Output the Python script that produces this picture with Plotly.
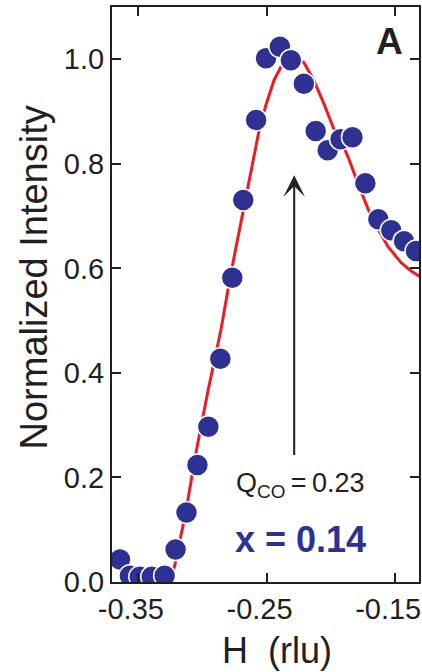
import plotly.graph_objects as go

# measured data points (H in rlu, normalized intensity)
h_data = [-0.3639, -0.3562, -0.3485, -0.3392, -0.3292, -0.3207, -0.3122, -0.3037,
          -0.2952, -0.2859, -0.2766, -0.2681, -0.2581, -0.2504, -0.2396, -0.2311,
          -0.2210, -0.2118, -0.2025, -0.1925, -0.1832, -0.1732, -0.1631, -0.1531,
          -0.1431, -0.1338]
i_data = [0.043, 0.012, 0.010, 0.010, 0.012, 0.062, 0.133, 0.224,
          0.297, 0.427, 0.582, 0.731, 0.884, 1.002, 1.024, 0.998,
          0.953, 0.863, 0.826, 0.847, 0.851, 0.763, 0.694, 0.673,
          0.652, 0.633]

# fitted curve
h_fit = [-0.3255, -0.3214, -0.3129, -0.3044, -0.2953, -0.2854, -0.2779, -0.2682,
         -0.2620, -0.2558, -0.2504, -0.2442, -0.2380, -0.2303, -0.2210, -0.2133,
         -0.2056, -0.1979, -0.1940, -0.1863, -0.1786, -0.1708, -0.1631, -0.1554,
         -0.1454, -0.1376, -0.1307]
i_fit = [0.0, 0.031, 0.132, 0.253, 0.368, 0.483, 0.588, 0.712,
         0.788, 0.864, 0.913, 0.960, 0.989, 1.004, 0.994, 0.960,
         0.916, 0.868, 0.855, 0.811, 0.760, 0.712, 0.674, 0.641,
         0.611, 0.595, 0.584]

x_tickvals = [-0.35, -0.25, -0.15]
x_ticktext = ["-0.35", "-0.25", "-0.15"]
y_tickvals = [0.0, 0.2, 0.4, 0.6, 0.8, 1.0]
y_ticktext = ["0.0", "0.2", "0.4", "0.6", "0.8", "1.0"]

INK = "#231F20"
NAVY = "#2E3192"
RED = "#ED1C24"
FONT = "Liberation Sans, Arial, Helvetica, sans-serif"

fig = go.Figure()
fig.add_trace(go.Scatter(x=h_fit, y=i_fit, mode="lines",
                         line=dict(color=RED, width=3), showlegend=False))
fig.add_trace(go.Scatter(x=h_data, y=i_data, mode="markers",
                         marker=dict(color=NAVY, size=22,
                                     line=dict(color="white", width=1.5)),
                         showlegend=False))

axis_common = dict(showline=True, linecolor=INK, linewidth=2, mirror="ticks",
                   ticks="inside", ticklen=9, tickwidth=2, tickcolor=INK,
                   showgrid=False, zeroline=False, ticklabeloverflow="allow",
                   tickfont=dict(family=FONT, size=29, color=INK))

fig.update_xaxes(range=[-0.3701, -0.1315], tickvals=x_tickvals, ticktext=x_ticktext,
                 ticklabelshift=-7, **axis_common)
fig.update_yaxes(range=[0, 1.1], tickvals=y_tickvals, ticktext=y_ticktext,
                 **axis_common)

# axis titles (placed as in the reference)
fig.add_annotation(x=-0.2557, y=0.5287, xref="paper", yref="paper",
                   text="Normalized Intensity", textangle=-90, showarrow=False,
                   xanchor="center", yanchor="middle",
                   font=dict(family=FONT, size=38, color=INK))
fig.add_annotation(x=0.5372, y=-0.1183, xref="paper", yref="paper",
                   text="H\u00a0\u00a0(rlu)", showarrow=False,
                   xanchor="center", yanchor="middle",
                   font=dict(family=FONT, size=36, color=INK))

fig.add_annotation(x=-0.2285, y=0.778, ax=-0.2285, ay=0.24, xref="x", yref="y",
                   axref="x", ayref="y", text="", showarrow=True,
                   arrowhead=3, arrowsize=1.8, arrowwidth=2, arrowcolor=INK)
fig.add_annotation(x=-0.2234, y=0.186, xref="x", yref="y", showarrow=False,
                   text="Q<sub>CO</sub>\u2009=\u20090.23",
                   font=dict(family=FONT, size=27, color=INK))
fig.add_annotation(x=-0.2238, y=0.081, xref="x", yref="y", showarrow=False,
                   text="<b>x = 0.14</b>",
                   font=dict(family=FONT, size=36, color=NAVY))
fig.add_annotation(x=-0.1542, y=1.034, xref="x", yref="y", showarrow=False,
                   text="<b>A</b>",
                   font=dict(family=FONT, size=37, color=INK))

fig.update_layout(width=422, height=672,
                  margin=dict(l=112, r=1, t=7, b=90),
                  paper_bgcolor="white", plot_bgcolor="white")

fig.write_html("out.html")
